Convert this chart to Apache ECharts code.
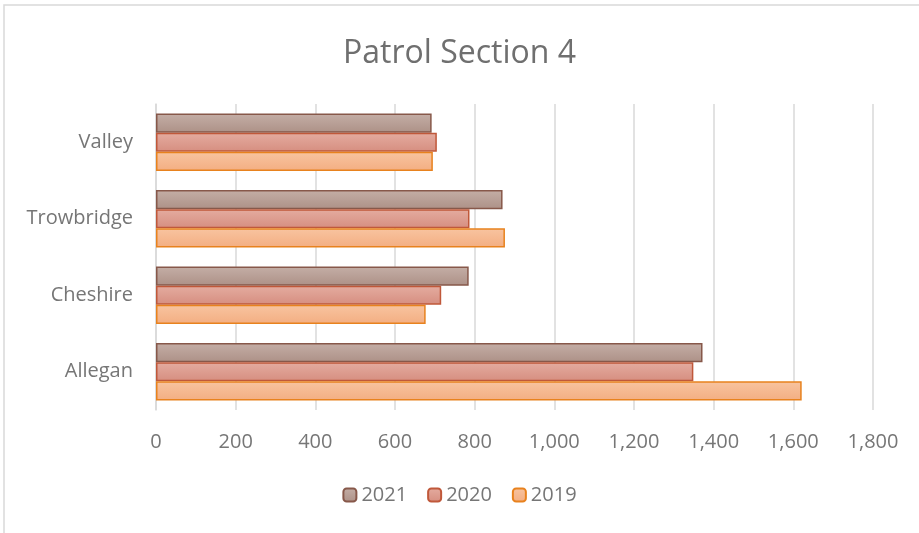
<!DOCTYPE html>
<html>
<head>
<meta charset="utf-8">
<script src="https://cdn.jsdelivr.net/npm/echarts@6/dist/echarts.min.js"></script>
<style>
  html, body { margin: 0; padding: 0; background: #fff; }
  #chart { width: 919px; height: 533px; }
</style>
</head>
<body>
<div id="chart"></div>
<script>
// categories bottom to top (echarts draws the first category at the bottom)
var categories = ['Allegan', 'Cheshire', 'Trowbridge', 'Valley'];
var values2019 = [1621, 677, 876, 695];
var values2020 = [1349, 716, 787, 705];
var values2021 = [1372, 785, 870, 692];
var xTicks = { min: 0, max: 1800, interval: 200 };

var textColor = '#767676';
var fontFam = 'Open Sans, sans-serif';

function grad(top, bottom) {
  return new echarts.graphic.LinearGradient(0, 0, 0, 1, [
    { offset: 0, color: top },
    { offset: 1, color: bottom }
  ]);
}

function barSeries(name, data, top, bottom, border) {
  return {
    name: name,
    type: 'bar',
    data: data,
    barGap: '0%',
    barCategoryGap: '25%',
    itemStyle: {
      color: grad(top, bottom),
      borderColor: border,
      borderWidth: 1.5
    }
  };
}

var myChart = echarts.init(document.getElementById('chart'));
var option = {
  animation: false,
  title: {
    text: 'Patrol Section 4',
    left: 'center',
    top: 33,
    textStyle: { fontFamily: fontFam, fontSize: 32, fontWeight: 'normal', color: '#6f6f6f' }
  },
  graphic: [{
    type: 'rect',
    shape: { x: 4, y: 5, width: 930, height: 540 },
    style: { fill: 'none', stroke: '#d9d9d9', lineWidth: 1.5 },
    silent: true
  }],
  legend: {
    bottom: 23,
    left: 'center',
    data: ['2021', '2020', '2019'],
    itemWidth: 13,
    itemHeight: 13,
    itemGap: 20,
    textStyle: { fontFamily: fontFam, fontSize: 20, color: textColor }
  },
  grid: { left: 156, right: 46, top: 104, bottom: 123 },
  xAxis: {
    type: 'value',
    min: xTicks.min,
    max: xTicks.max,
    interval: xTicks.interval,
    axisLine: { show: false },
    axisTick: { show: false },
    splitLine: { lineStyle: { color: '#d9d9d9', width: 1.5 } },
    axisLabel: {
      margin: 22,
      fontFamily: fontFam,
      fontSize: 20,
      color: textColor,
      formatter: function (v) { return v.toLocaleString('en-US'); }
    }
  },
  yAxis: {
    type: 'category',
    data: categories,
    axisLine: { lineStyle: { color: '#d9d9d9', width: 1.5 } },
    axisTick: { show: false },
    axisLabel: { margin: 23, fontFamily: fontFam, fontSize: 20, color: textColor }
  },
  // first series sits at the top of each band
  series: [
    barSeries('2021', values2021, '#c4aea6', '#ad9187', '#87584a'),
    barSeries('2020', values2020, '#e4aca0', '#d68e80', '#c0583a'),
    barSeries('2019', values2019, '#f8c4a0', '#f3ae82', '#e8821e')
  ]
};
myChart.setOption(option);
</script>
</body>
</html>
